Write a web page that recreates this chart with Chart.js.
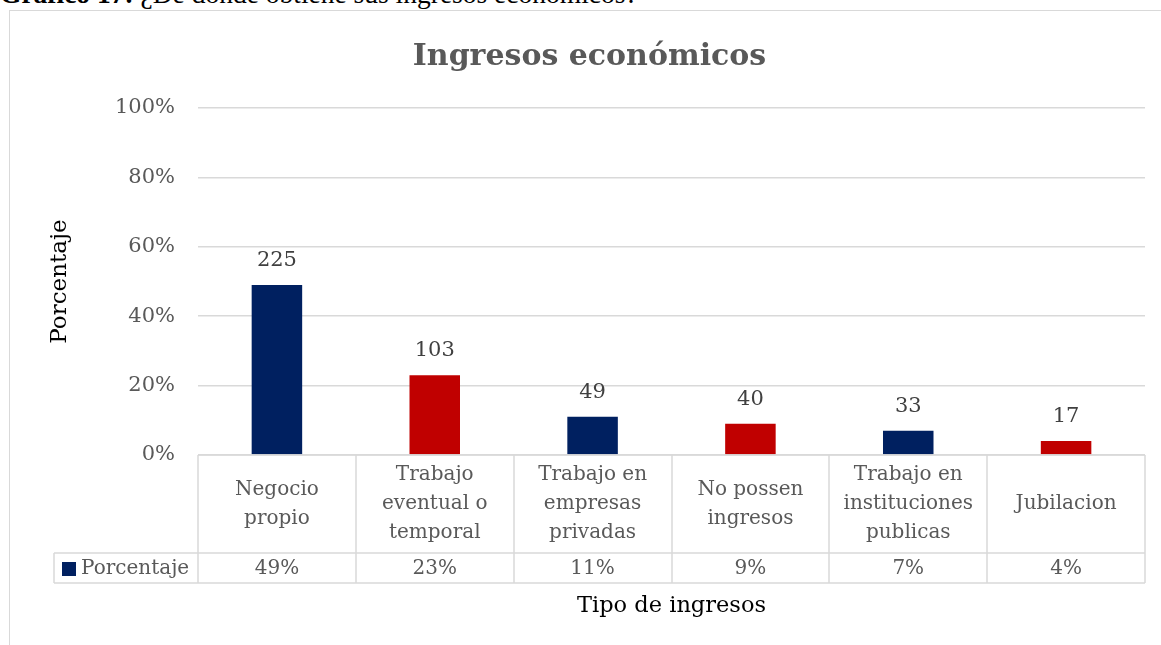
<!DOCTYPE html>
<html>
<head>
<meta charset="utf-8">
<script src="https://cdn.jsdelivr.net/npm/chart.js@4.4.0/dist/chart.umd.min.js"></script>
<style>
  body { margin: 0; background: #fff; width: 1161px; height: 645px; overflow: hidden; position: relative; }
  #caption { position: absolute; left: 0; top: -22px; font: 27.5px/31px "Liberation Serif"; white-space: nowrap; color: #000; }
  #frame { position: absolute; left: 9px; top: 10px; width: 1200px; height: 700px; border: 1px solid #d9d9d9; }
  #wrap { position: absolute; left: 0; top: 0; width: 1161px; height: 645px; }
</style>
</head>
<body>
<div id="caption"><b>Gráfico 17:</b> ¿De dónde obtiene sus ingresos económicos?</div>
<div id="frame"></div>
<div id="wrap"><canvas id="chart"></canvas></div>
<script>
// data
const categories = [
  ['Negocio', 'propio'],
  ['Trabajo', 'eventual o', 'temporal'],
  ['Trabajo en', 'empresas', 'privadas'],
  ['No possen', 'ingresos'],
  ['Trabajo en', 'instituciones', 'publicas'],
  ['Jubilacion']
];
const percentages = [49, 23, 11, 9, 7, 4];
const counts = [225, 103, 49, 40, 33, 17];
const barColors = ['#002060', '#C00000', '#002060', '#C00000', '#002060', '#C00000'];
const seriesName = 'Porcentaje';

const FONT = 'DejaVu Serif';
const GRID = '#d9d9d9';
const TXT = '#595959';

// draws the data table under the plot, plus the count labels over the bars
const tablePlugin = {
  id: 'dataTable',
  afterDraw(chart) {
    const ctx = chart.ctx;
    const x = chart.scales.x;
    const area = chart.chartArea;
    const half = (x.getPixelForValue(1) - x.getPixelForValue(0)) / 2;
    const top = area.bottom;
    const rowTop = top + 98;
    const rowBottom = rowTop + 30;
    const keyLeft = 54;

    ctx.save();
    ctx.strokeStyle = GRID;
    ctx.lineWidth = 1.5;
    ctx.beginPath();
    ctx.moveTo(area.left, top); ctx.lineTo(area.right, top);
    ctx.moveTo(keyLeft, rowTop); ctx.lineTo(area.right, rowTop);
    ctx.moveTo(keyLeft, rowBottom); ctx.lineTo(area.right, rowBottom);
    ctx.moveTo(keyLeft, rowTop); ctx.lineTo(keyLeft, rowBottom);
    for (let i = 0; i <= categories.length; i++) {
      const px = Math.round(x.getPixelForValue(i) - half);
      ctx.moveTo(px, top); ctx.lineTo(px, rowBottom);
    }
    ctx.stroke();

    // category labels, centred in header cell
    ctx.fillStyle = TXT;
    ctx.textAlign = 'center';
    ctx.textBaseline = 'middle';
    ctx.font = '20px "' + FONT + '"';
    const lh = 29;
    categories.forEach((lines, i) => {
      const cx = x.getPixelForValue(i);
      const cy = (top + rowTop) / 2 - (lines.length - 1) * lh / 2;
      lines.forEach((t, j) => ctx.fillText(t, cx, cy + j * lh));
    });

    // values row
    percentages.forEach((v, i) => {
      ctx.fillText(v + '%', x.getPixelForValue(i), (rowTop + rowBottom) / 2 + 1);
    });

    // legend key
    ctx.fillStyle = barColors[0];
    ctx.fillRect(keyLeft + 8, rowTop + 9, 14, 14);
    ctx.fillStyle = TXT;
    ctx.textAlign = 'left';
    ctx.fillText(seriesName, keyLeft + 27, (rowTop + rowBottom) / 2 + 1);

    // count labels over bars
    const meta = chart.getDatasetMeta(0);
    ctx.fillStyle = '#404040';
    ctx.textAlign = 'center';
    ctx.textBaseline = 'bottom';
    ctx.font = '21px "' + FONT + '"';
    meta.data.forEach((bar, i) => {
      ctx.fillText(String(counts[i]), bar.x, bar.y - 14);
    });
    ctx.restore();
  }
};

new Chart(document.getElementById('chart'), {
  type: 'bar',
  data: {
    labels: categories.map(c => c.join(' ')),
    datasets: [{
      label: seriesName,
      data: percentages,
      backgroundColor: barColors,
      categoryPercentage: 1,
      barPercentage: 0.32
    }]
  },
  options: {
    responsive: true,
    maintainAspectRatio: false,
    animation: false,
    layout: { padding: { left: 34, right: 16, top: 0, bottom: 12 } },
    plugins: {
      legend: { display: false },
      tooltip: { enabled: false },
      title: {
        display: true,
        text: 'Ingresos económicos',
        color: TXT,
        font: { family: FONT, size: 30, weight: 'bold' },
        padding: { top: 39, bottom: 33 }
      }
    },
    scales: {
      x: {
        grid: { display: false },
        border: { display: false },
        ticks: { display: false },
        title: {
          display: true,
          text: 'Tipo de ingresos',
          color: '#000',
          font: { family: FONT, size: 22.5 },
          padding: { top: 0, bottom: 13 }
        },
        afterFit(scale) { scale.height = 178; }
      },
      y: {
        min: 0,
        max: 100,
        ticks: {
          stepSize: 20,
          color: TXT,
          padding: 23,
          font: { family: FONT, size: 21 },
          callback: v => v + '%'
        },
        grid: { color: GRID, lineWidth: 1.5, drawTicks: false },
        border: { display: false },
        title: {
          display: true,
          text: 'Porcentaje',
          color: '#000',
          font: { family: FONT, size: 23 },
          padding: { top: 12 }
        },
        afterFit(scale) { scale.width = 164; }
      }
    }
  },
  plugins: [tablePlugin]
});
</script>
</body>
</html>
